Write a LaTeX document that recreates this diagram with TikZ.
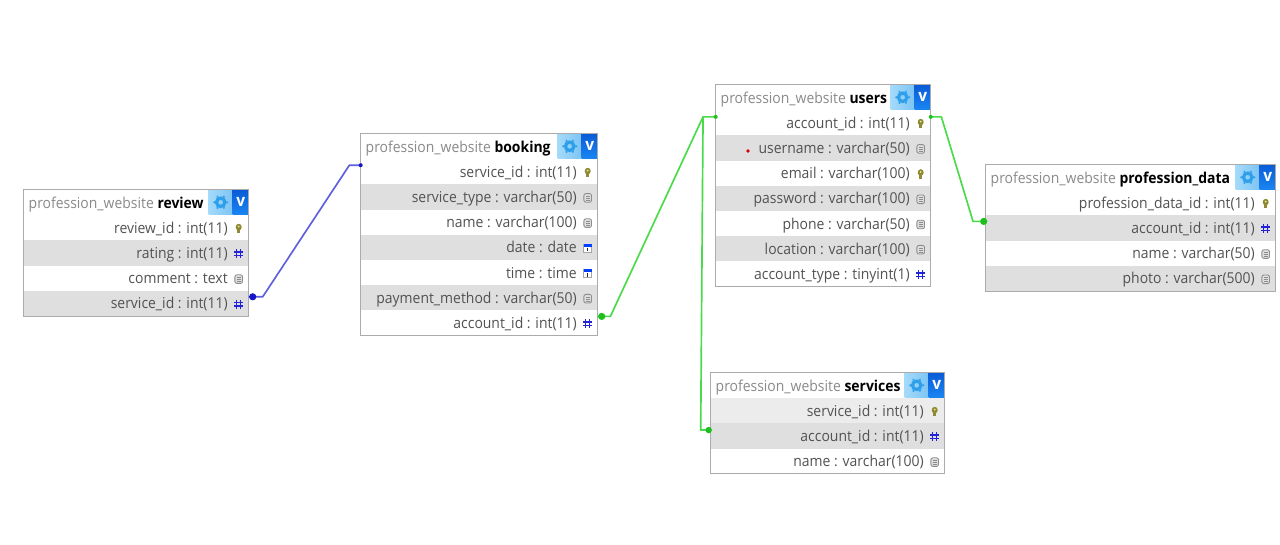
\documentclass[tikz,border=0pt]{standalone}
\usepackage{fontspec}
\setmainfont[FakeStretch=0.93]{Open Sans}
\usetikzlibrary{calc}
\definecolor{rowgrey}{HTML}{DFDFDF}
\definecolor{rowlight}{HTML}{ECECEC}
\definecolor{edgegrey}{HTML}{ABABAB}
\definecolor{schemagrey}{HTML}{8A8A8A}
\definecolor{linkgreen}{HTML}{4ADB4A}
\definecolor{dotgreen}{HTML}{1CBF1C}
\definecolor{linkblue}{HTML}{6060DC}
\definecolor{dotblue}{HTML}{1515C8}
\definecolor{hashblue}{HTML}{2222D8}
\definecolor{gearleft}{HTML}{A4DAFA}
\definecolor{gearright}{HTML}{7CC4F4}
\definecolor{gearblue}{HTML}{2E9FEA}
\definecolor{vtop}{HTML}{0A5CD8}
\definecolor{vbottom}{HTML}{1A86F2}
\tikzset{
  x=0.75pt,y=-0.75pt,
  rowbox/.style={draw=none,inner sep=0pt,outer sep=0pt,anchor=north west},
  rowtext/.style={inner sep=0pt,outer sep=0pt,anchor=base east,font=\fontsize{11.25pt}{13pt}\selectfont},
  titletext/.style={inner sep=0pt,outer sep=0pt,anchor=base west,font=\fontsize{11.25pt}{13pt}\selectfont},
  tablebox/.style={draw=edgegrey,line width=0.75pt,inner sep=0pt,outer sep=0pt,anchor=north west},
  gearbox/.style={inner sep=0pt,outer sep=0pt,anchor=north west,left color=gearleft,right color=gearright},
  vbox/.style={inner sep=0pt,outer sep=0pt,anchor=north west,top color=vtop,bottom color=vbottom,
     text=white,font=\bfseries\fontsize{12.5pt}{13pt}\selectfont},
  link/.style={line width=1.25pt,line join=round},
  keyicon/.pic={
    \fill[olive!70!gray] (0,-1.5) ellipse (3 and 3.3);
    \fill[olive!60!gray] (-1.6,0) rectangle (1.6,4.5);
    \fill[white!80!olive] (0,-2) circle (1);
  },
  hashicon/.pic={
    \draw[hashblue,line width=1pt] (-1.9,-4.4)--(-1.9,4.4) (1.9,-4.4)--(1.9,4.4) (-4.4,-1.7)--(4.4,-1.7) (-4.4,1.9)--(4.4,1.9);
  },
  docicon/.pic={
    \draw[gray!90,line width=0.65pt,fill=gray!25,rounded corners=1.5] (-3.8,-4.2) rectangle (3.8,4.4);
    \draw[gray!90,line width=0.55pt] (-2,-1.6)--(2,-1.6) (-2,0.4)--(2,0.4) (-2,2.3)--(2,2.3);
  },
  calicon/.pic={
    \draw[gray!70,line width=0.5pt,fill=white] (-4,-4.2) rectangle (4,4.4);
    \fill[blue!75!cyan] (-4,-4.2) rectangle (4,-1.4);
    \draw[black!85,line width=0.85pt] (0,-0.6)--(0,3.2);
  },
}
% \thead{name}{x}{y}{w}{table name}: title bar
\newcommand{\thead}[5]{%
  \xdef\tbname{#1}\xdef\tbx{#2}\xdef\tby{#3}\xdef\tbw{#4}%
  \pgfmathsetmacro{\rt}{#3+25.5}\xdef\tbrow{\rt}%
  \pgfmathsetmacro{\gx}{#2+#4-40}\pgfmathsetmacro{\vx}{#2+#4-16}%
  \pgfmathsetmacro{\tl}{#2+5}\pgfmathsetmacro{\bl}{#3+19}%
  \node[titletext] (#1-title) at (\tl,\bl) {\textcolor{schemagrey}{profession\_website} \textbf{#5}};
  \node[gearbox,minimum width=18pt,minimum height=18.9pt] (#1-gear) at (\gx,#3) {};
  \node[vbox,minimum width=12pt,minimum height=18.9pt] (#1-v) at (\vx,#3) {v};
  \draw[gearblue,line width=2.4pt] (#1-gear.center) circle (4.2);
  \foreach \a in {0,60,...,300}{\fill[gearblue] ($(#1-gear.center)+(\a:6.4)$) circle (1.2);}
}
% \trow{id}{fill}{text}{icon}
\newcommand{\trow}[4]{%
  \pgfmathsetmacro{\tx}{\tbx+\tbw-10}\pgfmathsetmacro{\lx}{\tbx+\tbw-21}%
  \pgfmathsetmacro{\cy}{\tbrow+13.4}\pgfmathsetmacro{\by}{\tbrow+18}\pgfmathsetmacro{\nx}{\tbrow+25.2}%
  \node[rowbox,fill=#2,minimum width=\tbw*0.75pt,minimum height=18.9pt] (\tbname-#1) at (\tbx,\tbrow) {};
  \node[rowtext,text=\ifx#2white black!88\else black!68\fi] (\tbname-#1-text) at (\lx,\by) {#3};
  \pic at (\tx,\cy) {#4icon};
  \xdef\tbrow{\nx}%
}
\newcommand{\tfoot}{%
  \pgfmathsetmacro{\hh}{(\tbrow-\tby)*0.75}%
  \node[tablebox,minimum width=\tbw*0.75pt,minimum height=\hh pt] (\tbname) at (\tbx,\tby) {};
}
\begin{document}
\begin{tikzpicture}
\useasboundingbox (0,0) rectangle (1280,544);
\fill[white] (0,0) rectangle (1280,544);

% review
\thead{review}{23.7}{189.7}{225}{review}
\trow{id}{white}{review\_id : int(11)}{key}
\trow{rating}{rowgrey}{rating : int(11)}{hash}
\trow{comment}{white}{comment : text}{doc}
\trow{service}{rowgrey}{service\_id : int(11)}{hash}
\tfoot

% booking
\thead{booking}{360.7}{133.7}{237}{booking}
\trow{service}{white}{service\_id : int(11)}{key}
\trow{type}{rowgrey}{service\_type : varchar(50)}{doc}
\trow{name}{white}{name : varchar(100)}{doc}
\trow{date}{rowgrey}{date : date}{cal}
\trow{time}{white}{time : time}{cal}
\trow{payment}{rowgrey}{payment\_method : varchar(50)}{doc}
\trow{account}{white}{account\_id : int(11)}{hash}
\tfoot

% users
\thead{users}{715.7}{84.7}{215}{users}
\trow{account}{white}{account\_id : int(11)}{key}
\trow{username}{rowgrey}{username : varchar(50)}{doc}
\trow{email}{white}{email : varchar(100)}{key}
\trow{password}{rowgrey}{password : varchar(100)}{doc}
\trow{phone}{white}{phone : varchar(50)}{doc}
\trow{location}{rowgrey}{location : varchar(100)}{doc}
\trow{type}{white}{account\_type : tinyint(1)}{hash}
\tfoot
\fill[red!85!black] (748,151) circle (1.9);

% services
\thead{services}{710.7}{372.7}{234}{services}
\trow{service}{rowlight}{service\_id : int(11)}{key}
\trow{account}{rowgrey}{account\_id : int(11)}{hash}
\trow{name}{white}{name : varchar(100)}{doc}
\tfoot

% profession_data
\thead{data}{985.7}{164.7}{290}{profession\_data}
\trow{id}{white}{profession\_data\_id : int(11)}{key}
\trow{account}{rowgrey}{account\_id : int(11)}{hash}
\trow{name}{white}{name : varchar(50)}{doc}
\trow{photo}{rowgrey}{photo : varchar(500)}{doc}
\tfoot

% connectors
\coordinate (a1) at ([xshift=10.5pt,yshift=-4.5pt]review-service.north east);
\coordinate (a2) at ([xshift=-8.5pt,yshift=-4.5pt]booking-service.north west);
\draw[link,linkblue] ([yshift=-4.5pt]review-service.north east) -- (a1) -- (a2) -- ([yshift=-4.5pt]booking-service.north west);
\fill[dotblue] ([xshift=3pt,yshift=-4.5pt]review-service.north east) circle (3.6);
\fill[dotblue] ([yshift=-4.5pt]booking-service.north west) circle (2);

\coordinate (b1) at ([xshift=9.5pt,yshift=-4.5pt]booking-account.north east);
\coordinate (b2) at ([xshift=-9.5pt,yshift=-5pt]users-account.north west);
\draw[link,linkgreen] ([yshift=-4.5pt]booking-account.north east) -- (b1) -- (b2) -- ([yshift=-5pt]users-account.north west);
\fill[dotgreen] ([xshift=3pt,yshift=-4.5pt]booking-account.north east) circle (3.6);
\fill[dotgreen] ([yshift=-5pt]users-account.north west) circle (2);

\coordinate (c1) at ([xshift=-7.5pt,yshift=-5pt]services-account.north west);
\draw[link,linkgreen] (b2) -- (c1) -- ([yshift=-5pt]services-account.north west);
\fill[dotgreen] ([xshift=-1.5pt,yshift=-5pt]services-account.north west) circle (3.2);

\coordinate (d1) at ([xshift=8pt,yshift=-5pt]users-account.north east);
\coordinate (d2) at ([xshift=-9.5pt,yshift=-4.5pt]data-account.north west);
\draw[link,linkgreen] ([yshift=-5pt]users-account.north east) -- (d1) -- (d2) -- ([yshift=-4.5pt]data-account.north west);
\fill[dotgreen] ([yshift=-5pt]users-account.north east) circle (2);
\fill[dotgreen] ([xshift=-1.5pt,yshift=-4.5pt]data-account.north west) circle (3.6);
\end{tikzpicture}
\end{document}
